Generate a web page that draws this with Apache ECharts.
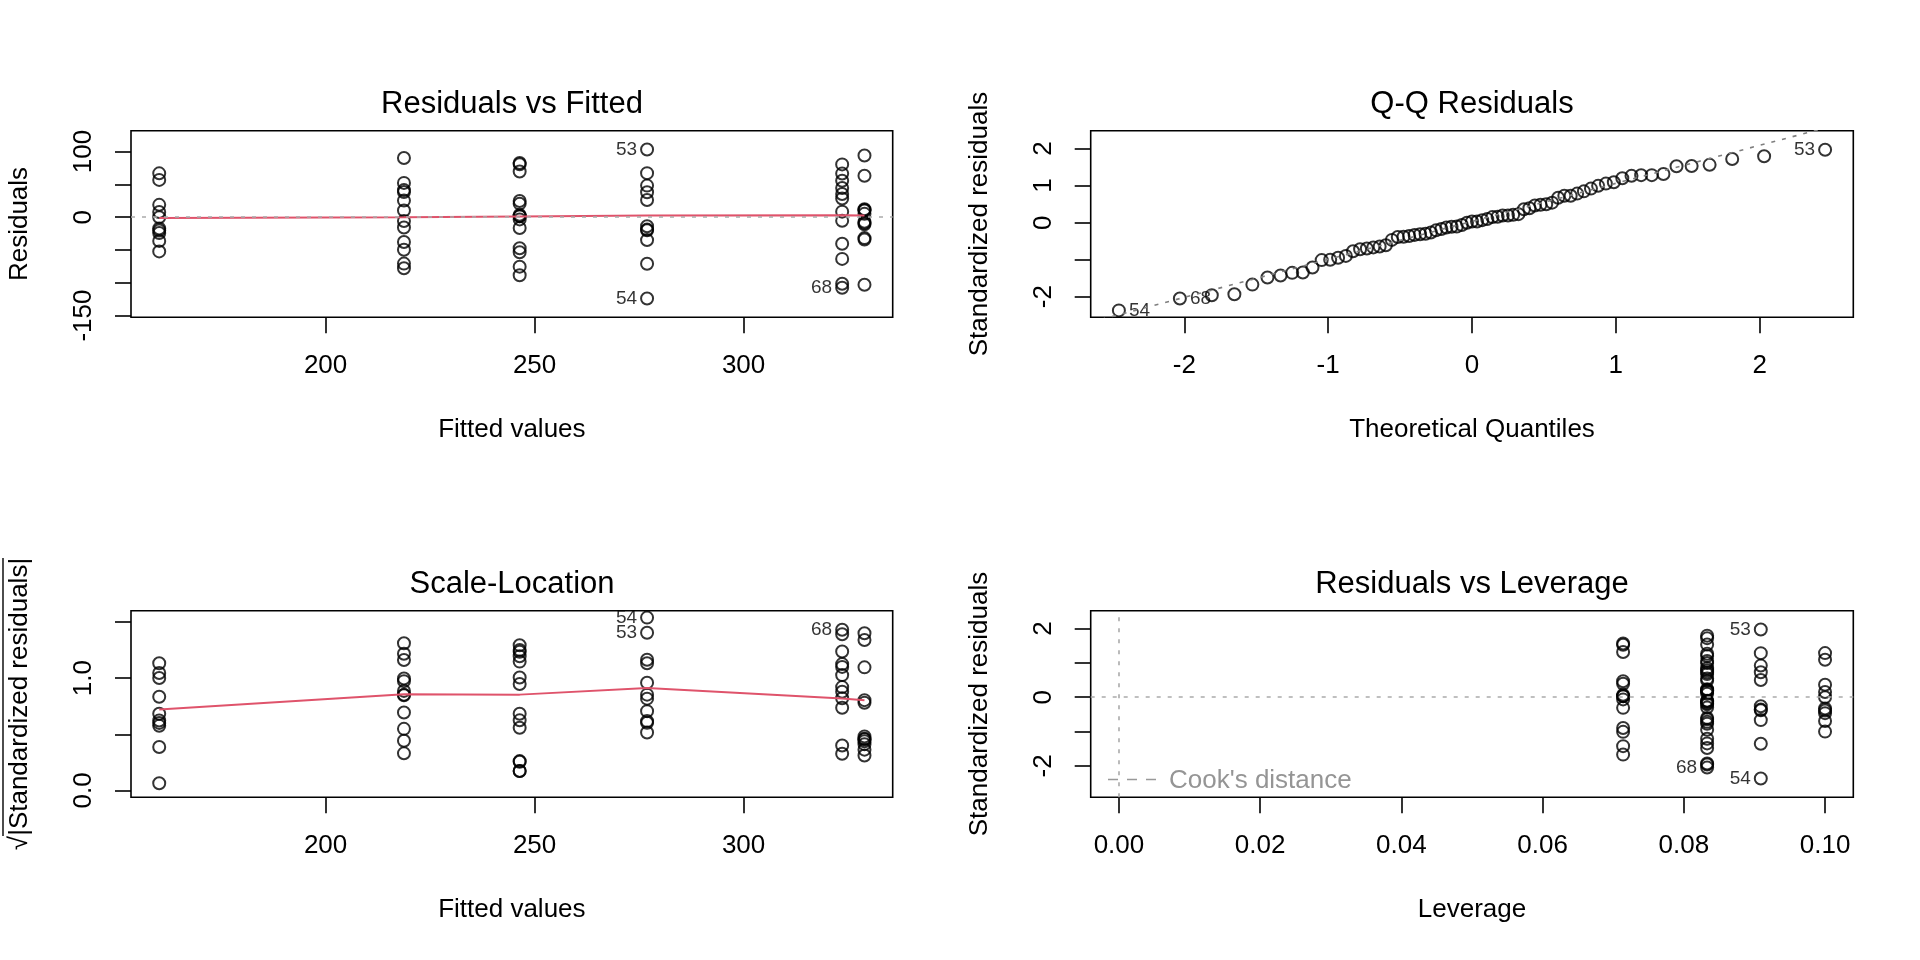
<!DOCTYPE html>
<html>
<head>
<meta charset="utf-8">
<title>lm diagnostics - chickwts</title>
<script src="https://cdn.jsdelivr.net/npm/echarts@6/dist/echarts.min.js"></script>
<style>
html, body { margin: 0; padding: 0; background: #fff; }
#main { width: 1920px; height: 960px; }
</style>
</head>
<body>
<div id="main"></div>
<script>
var FONT = '"Liberation Sans", Arial, Helvetica, sans-serif';

// weight ~ feed, groups in data order (observations 1..71)
var feeds = ['horsebean', 'linseed', 'soybean', 'sunflower', 'meatmeal', 'casein'];
var fittedValues = [160.20, 218.75, 246.43, 328.92, 276.91, 323.58];
var leverages = [0.1000, 0.0833, 0.0714, 0.0833, 0.0909, 0.0833];

var residuals = [
    [18.8, -0.2, -24.2, 66.8, 56.8, 7.8, -52.2, -36.2, -17.2, -20.2],
    [90.25, 10.25, -37.75, -77.75, 41.25, -15.75, -70.75, -49.75, -5.75, 38.25, 25.25, 52.25],
    [-3.43, -16.43, 1.57, 80.57, 82.57, 3.57, -53.43, 24.57, 69.57, 20.57, -47.43, -75.43, -88.43, 1.57],
    [94.08, 11.08, 63.08, 10.08, 12.08, -102.92, -8.92, -33.92, 5.08, -6.92, -31.92, -10.92],
    [48.09, -19.91, 26.09, 38.09, 103.09, -123.91, -13.91, -34.91, -70.91, 67.09, -18.91],
    [44.42, 66.42, 55.42, -63.58, 80.42, -5.58, 28.42, 35.42, -107.58, -101.58, -40.58, 8.42]
];

var stdResiduals = [
    [0.361, -0.004, -0.465, 1.284, 1.092, 0.150, -1.003, -0.696, -0.331, -0.388],
    [1.719, 0.195, -0.719, -1.481, 0.785, -0.300, -1.347, -0.947, -0.109, 0.728, 0.481, 0.995],
    [-0.065, -0.311, 0.030, 1.524, 1.562, 0.068, -1.011, 0.465, 1.316, 0.389, -0.897, -1.427, -1.673, 0.030],
    [1.792, 0.211, 1.201, 0.192, 0.230, -1.960, -0.170, -0.646, 0.097, -0.132, -0.608, -0.208],
    [0.920, -0.381, 0.499, 0.728, 1.971, -2.369, -0.266, -0.668, -1.356, 1.283, -0.362],
    [0.846, 1.265, 1.055, -1.211, 1.531, -0.106, 0.541, 0.674, -2.049, -1.934, -0.773, 0.160]
];

var sqrtAbsStd = [
    [0.601, 0.063, 0.682, 1.133, 1.045, 0.387, 1.001, 0.834, 0.575, 0.623],
    [1.311, 0.442, 0.848, 1.217, 0.886, 0.548, 1.161, 0.973, 0.330, 0.853, 0.694, 0.997],
    [0.255, 0.558, 0.173, 1.234, 1.250, 0.261, 1.005, 0.682, 1.147, 0.624, 0.947, 1.195, 1.293, 0.173],
    [1.339, 0.459, 1.096, 0.438, 0.480, 1.400, 0.412, 0.804, 0.311, 0.363, 0.780, 0.456],
    [0.959, 0.617, 0.706, 0.853, 1.404, 1.539, 0.516, 0.817, 1.164, 1.133, 0.602],
    [0.920, 1.125, 1.027, 1.100, 1.237, 0.326, 0.736, 0.821, 1.431, 1.391, 0.879, 0.400]
];

var qqTheoretical = [
    -2.455, -2.031, -1.809, -1.652, -1.527, -1.422, -1.331, -1.250, -1.176, -1.109,
    -1.045, -0.986, -0.931, -0.877, -0.827, -0.778, -0.731, -0.686, -0.642, -0.599,
    -0.557, -0.516, -0.476, -0.437, -0.399, -0.361, -0.323, -0.286, -0.250, -0.213,
    -0.178, -0.142, -0.106, -0.071, -0.035, 0,
    0.035, 0.071, 0.106, 0.142, 0.178, 0.213, 0.250, 0.286, 0.323, 0.361,
    0.399, 0.437, 0.476, 0.516, 0.557, 0.599, 0.642, 0.686, 0.731, 0.778,
    0.827, 0.877, 0.931, 0.986, 1.045, 1.109, 1.176, 1.250, 1.331, 1.422,
    1.527, 1.652, 1.809, 2.031, 2.455
];
var qqLine = { intercept: 0.0355, slope: 1.0267 };

// lowess smooth, at the sorted fitted values
var smoothX = [160.20, 218.75, 246.43, 276.91, 323.58, 328.92];
var smoothResid = [-1.2, -0.3, 0.9, 2.6, 2.9, 2.7];
var smoothScale = [0.721, 0.856, 0.853, 0.912, 0.818, 0.803];

var idPoints = [53, 54, 68];

var ranges = {
    fitX: [153.45, 335.67],
    residY: [-152.6, 131.78],
    qqX: [-2.651, 2.651],
    qqY: [-2.556, 2.484],
    scaleY: [-0.0616, 1.6006],
    levX: [-0.004, 0.104],
    levY: [-2.917, 2.519]
};

function flatPoints(xByGroup, yGroups) {
    var pts = [];
    var obs = 0;
    yGroups.forEach(function (ys, g) {
        ys.forEach(function (y) {
            obs += 1;
            pts.push({ id: obs, x: xByGroup[g], y: y });
        });
    });
    return pts;
}

function toData(pts, xRange) {
    var mid = (xRange[0] + xRange[1]) / 2;
    return pts.map(function (p) {
        var item = { value: [p.x, p.y] };
        if (idPoints.indexOf(p.id) >= 0) {
            item.label = {
                show: true,
                formatter: String(p.id),
                position: p.x < mid ? 'right' : 'left'
            };
        }
        return item;
    });
}

var residPts = flatPoints(fittedValues, residuals);
var scalePts = flatPoints(fittedValues, sqrtAbsStd);
var levPts = flatPoints(leverages, stdResiduals);
var qqPts = flatPoints(fittedValues, stdResiduals)
    .sort(function (a, b) { return a.y - b.y; })
    .map(function (p, i) { return { id: p.id, x: qqTheoretical[i], y: p.y }; });

function grid(left, top, width) {
    return {
        left: left, top: top, width: width, height: 186.6,
        show: true, borderColor: '#000', borderWidth: 1.6,
        backgroundColor: 'transparent', containLabel: false, outerBoundsMode: 'none'
    };
}

function axis(dim, gridIndex, range, ticks, labels, name, fmt) {
    var isY = dim === 'y';
    return {
        type: 'value', gridIndex: gridIndex, min: range[0], max: range[1],
        axisLine: { show: false, onZero: false },
        splitLine: { show: false },
        axisTick: { show: true, length: 16, customValues: ticks, lineStyle: { color: '#000', width: 1.6 } },
        axisLabel: {
            customValues: labels, margin: isY ? 34 : 36, rotate: isY ? 90 : 0,
            fontSize: 26, color: '#000', fontFamily: FONT, formatter: fmt
        },
        name: name, nameLocation: 'middle', nameGap: isY ? 98 : 100,
        nameTextStyle: { fontSize: 26, color: '#000', fontFamily: FONT }
    };
}

var pointStyle = {
    type: 'scatter', symbol: 'circle', symbolSize: 12,
    itemStyle: { color: 'transparent', borderColor: '#000', borderWidth: 2 },
    label: { fontSize: 19, color: '#000', fontFamily: FONT, distance: 3 },
    silent: true
};

var dotted = { color: '#aaaaaa', type: [4, 7], width: 1.6 };

function points(idx, data, markLines) {
    var s = Object.assign({}, pointStyle, { xAxisIndex: idx, yAxisIndex: idx, data: data });
    if (markLines) {
        s.markLine = {
            silent: true, symbol: ['none', 'none'], label: { show: false },
            lineStyle: dotted, data: markLines
        };
    }
    return s;
}

function smooth(idx, xs, ys) {
    return {
        type: 'line', xAxisIndex: idx, yAxisIndex: idx, symbol: 'none', silent: true,
        data: xs.map(function (x, i) { return [x, ys[i]]; }),
        lineStyle: { color: '#DF536B', width: 2 }, z: 3
    };
}

var titleStyle = { fontSize: 31, lineHeight: 31, fontWeight: 'normal', color: '#000', fontFamily: FONT };
var fix1 = function (v) { return v.toFixed(1); };
var fix2 = function (v) { return v.toFixed(2); };

var myChart = echarts.init(document.getElementById('main'));

var option = {
    animation: false,
    backgroundColor: '#fff',
    title: [
        { text: 'Residuals vs Fitted', left: 512, top: 89, textAlign: 'center', padding: 0, textStyle: titleStyle },
        { text: 'Q-Q Residuals', left: 1472, top: 89, textAlign: 'center', padding: 0, textStyle: titleStyle },
        { text: 'Scale-Location', left: 512, top: 569, textAlign: 'center', padding: 0, textStyle: titleStyle },
        { text: 'Residuals vs Leverage', left: 1472, top: 569, textAlign: 'center', padding: 0, textStyle: titleStyle }
    ],
    grid: [
        grid(131, 130.7, 761.7),
        grid(1090.7, 130.7, 762.6),
        grid(131, 610.7, 761.7),
        grid(1090.7, 610.7, 762.6)
    ],
    xAxis: [
        axis('x', 0, ranges.fitX, [200, 250, 300], [200, 250, 300], 'Fitted values'),
        axis('x', 1, ranges.qqX, [-2, -1, 0, 1, 2], [-2, -1, 0, 1, 2], 'Theoretical Quantiles'),
        axis('x', 2, ranges.fitX, [200, 250, 300], [200, 250, 300], 'Fitted values'),
        axis('x', 3, ranges.levX, [0, 0.02, 0.04, 0.06, 0.08, 0.1], [0, 0.02, 0.04, 0.06, 0.08, 0.1], 'Leverage', fix2)
    ],
    yAxis: [
        axis('y', 0, ranges.residY, [-150, -100, -50, 0, 50, 100], [-150, 0, 100], 'Residuals'),
        axis('y', 1, ranges.qqY, [-2, -1, 0, 1, 2], [-2, 0, 1, 2], 'Standardized residuals'),
        axis('y', 2, ranges.scaleY, [0, 0.5, 1, 1.5], [0, 1], '\u221A|Standardized residuals|', fix1),
        axis('y', 3, ranges.levY, [-2, -1, 0, 1, 2], [-2, 0, 2], 'Standardized residuals')
    ],
    series: [
        points(0, toData(residPts, ranges.fitX)),
        smooth(0, smoothX, smoothResid),
        points(0, [], [{ yAxis: 0 }]),

        points(1, toData(qqPts, ranges.qqX)),
        {
            type: 'line', xAxisIndex: 1, yAxisIndex: 1, symbol: 'none', silent: true, clip: true,
            data: ranges.qqX.map(function (x) { return [x, qqLine.intercept + qqLine.slope * x]; }),
            lineStyle: { color: '#7f7f7f', type: [4, 7], width: 1.6 }
        },

        points(2, toData(scalePts, ranges.fitX)),
        smooth(2, smoothX, smoothScale),

        points(3, toData(levPts, ranges.levX), [{ yAxis: 0 }, { xAxis: 0 }])
    ],
    graphic: [
        // overline of the square root in the Scale-Location y label
        { type: 'line', shape: { x1: 3, y1: 836, x2: 3, y2: 558 }, style: { stroke: '#000', lineWidth: 1.4 }, silent: true },
        // Cook's distance legend
        { type: 'line', shape: { x1: 1108, y1: 779.5, x2: 1163, y2: 779.5 },
          style: { stroke: '#999', lineWidth: 1.6, lineDash: [10, 9] }, silent: true },
        { type: 'text', x: 1169, y: 780.5, silent: true,
          style: { text: "Cook's distance", fill: '#959595', fontSize: 26, fontFamily: FONT, verticalAlign: 'middle', align: 'left' } }
    ]
};

myChart.setOption(option);
</script>
</body>
</html>
